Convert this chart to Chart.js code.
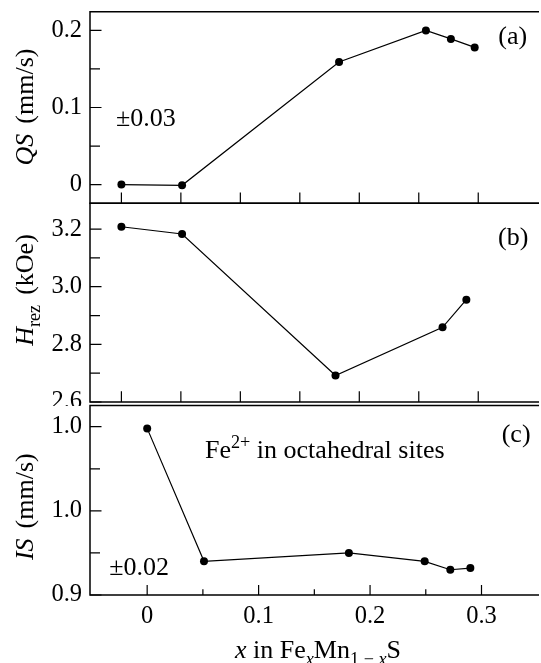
<!DOCTYPE html>
<html>
<head>
<meta charset="utf-8">
<script src="https://cdn.jsdelivr.net/npm/chart.js@4.4.0/dist/chart.umd.min.js"></script>
<style>
  html, body { margin: 0; padding: 0; background: #fff; }
  body { width: 541px; height: 663px; position: relative; overflow: hidden; }
  canvas { position: absolute; left: 0; }
</style>
</head>
<body>
<canvas id="chartA" width="541" height="210" style="top:0px"></canvas>
<canvas id="chartB" width="541" height="210" style="top:196px"></canvas>
<canvas id="chartC" width="541" height="265" style="top:398px"></canvas>
<script>
// (a) quadrupole splitting
const xQS = [0, 0.051, 0.183, 0.256, 0.277, 0.297];
const qsValues = [0, -0.001, 0.159, 0.2, 0.189, 0.178];
// (b) resonance field
const xHrez = [0, 0.051, 0.18, 0.27, 0.29];
const hrezValues = [3.208, 3.183, 2.692, 2.859, 2.955];
// (c) isomer shift
const xIS = [0, 0.051, 0.181, 0.249, 0.272, 0.29];
const isValues = [1.049, 0.970, 0.975, 0.970, 0.965, 0.966];

// ticks
const xTicksTop = [0, 0.05, 0.1, 0.15, 0.2, 0.25, 0.3];
const xTicksBottom = [0, 0.1, 0.2, 0.3];
const xTickLabels = ['0', '0.1', '0.2', '0.3'];
const xMinorBottom = [0.05, 0.15, 0.25];
const qsTicks = [0, 0.1, 0.2];
const qsTickLabels = ['0', '0.1', '0.2'];
const qsMinor = [0.05, 0.15];
const hrezTicks = [2.6, 2.8, 3.0, 3.2];
const hrezTickLabels = ['2.6', '2.8', '3.0', '3.2'];
const hrezMinor = [2.7, 2.9, 3.1];
const isTicks = [0.95, 1.0, 1.05];
const isTickLabels = ['0.9', '1.0', '1.0'];
const isMinor = [0.975, 1.025];

const SERIF = '"Liberation Serif", "Times New Roman", serif';
const TICK_SIZE = 24.5;
const TEXT_SIZE = 26;

function drawRich(ctx, parts, x, y, size, align) {
  const fontOf = p => (p.it ? 'italic ' : '') + ((p.sub || p.sup) ? size * 0.7 : size) + 'px ' + SERIF;
  const widthOf = p => { if (p.gap) return p.gap; ctx.font = fontOf(p); return ctx.measureText(p.t).width; };
  let total = 0;
  parts.forEach(p => { total += widthOf(p); });
  let cx = align === 'center' ? x - total / 2 : x;
  ctx.textAlign = 'left';
  ctx.textBaseline = 'alphabetic';
  ctx.fillStyle = '#000';
  parts.forEach(p => {
    const w = widthOf(p);
    if (!p.gap) {
      ctx.font = fontOf(p);
      const dy = p.sub ? size * 0.25 : (p.sup ? -size * 0.38 : 0);
      ctx.fillText(p.t, cx, y + dy);
    }
    cx += w;
  });
}

// frame, inward ticks and labels for one panel
function framePlugin(cfg) {
  return {
    id: 'frame',
    afterDraw(chart) {
      const ctx = chart.ctx;
      const a = chart.chartArea;
      const xs = chart.scales.x, ys = chart.scales.y;
      ctx.save();
      ctx.strokeStyle = '#000';
      ctx.lineWidth = 1.5;
      ctx.beginPath();
      ctx.moveTo(a.right + 2, a.top);
      ctx.lineTo(a.left, a.top);
      ctx.lineTo(a.left, a.bottom);
      ctx.lineTo(a.right + 2, a.bottom);
      ctx.stroke();

      ctx.lineWidth = 1.2;
      ctx.beginPath();
      cfg.yMajor.forEach(v => { const p = ys.getPixelForValue(v); ctx.moveTo(a.left, p); ctx.lineTo(a.left + 11.5, p); });
      cfg.yMinor.forEach(v => { const p = ys.getPixelForValue(v); ctx.moveTo(a.left, p); ctx.lineTo(a.left + 10, p); });
      cfg.xMajor.forEach(v => { const p = xs.getPixelForValue(v); ctx.moveTo(p, a.bottom); ctx.lineTo(p, a.bottom - cfg.xMajorLen); });
      cfg.xMinor.forEach(v => { const p = xs.getPixelForValue(v); ctx.moveTo(p, a.bottom); ctx.lineTo(p, a.bottom - 5.7); });
      ctx.stroke();

      cfg.texts.forEach(t => drawRich(ctx, t.parts, a.left + t.dx, a.top + t.dy, TEXT_SIZE, 'left'));

      ctx.save();
      ctx.translate(33, a.top + cfg.yTitle.dy);
      ctx.rotate(-Math.PI / 2);
      drawRich(ctx, cfg.yTitle.parts, 0, 0, TEXT_SIZE, 'center');
      ctx.restore();

      if (cfg.xTitle) {
        drawRich(ctx, cfg.xTitle, 318, a.bottom + 63.3, TEXT_SIZE, 'center');
      }
      ctx.restore();
    }
  };
}

function yAxis(min, max, ticks, labels) {
  return {
    type: 'linear',
    min: min,
    max: max,
    grid: { display: false, drawTicks: false },
    border: { display: false },
    afterFit: s => { s.width = 90; s.paddingTop = 0; s.paddingBottom = 0; },
    afterBuildTicks: s => { s.ticks = ticks.map(v => ({ value: v })); },
    ticks: {
      padding: 8,
      color: '#000',
      autoSkip: false,
      font: { family: SERIF, size: TICK_SIZE },
      callback: (v, i) => labels[i]
    }
  };
}

function lineData(xs, ys) {
  return {
    datasets: [{
      data: xs.map((x, i) => ({ x: x, y: ys[i] })),
      borderColor: '#000',
      borderWidth: 1.2,
      pointRadius: 4,
      pointBorderWidth: 0,
      pointBackgroundColor: '#000',
      tension: 0
    }]
  };
}

const common = {
  responsive: false,
  animation: false,
  events: [],
  plugins: { legend: { display: false }, tooltip: { enabled: false } }
};

new Chart(document.getElementById('chartA'), {
  type: 'line',
  data: lineData(xQS, qsValues),
  options: Object.assign({}, common, {
    layout: { padding: { top: 11.7, bottom: 6.7, left: 0, right: 0 } },
    scales: {
      x: { type: 'linear', display: false, min: -0.0264, max: 0.3494 },
      y: yAxis(-0.0243, 0.2243, qsTicks, qsTickLabels)
    }
  }),
  plugins: [framePlugin({
    yMajor: qsTicks, yMinor: qsMinor, xMajor: xTicksTop, xMinor: [], xMajorLen: 10.7,
    texts: [
      { parts: [{ t: '(a)' }], dx: 408.3, dy: 32.3 },
      { parts: [{ t: '±0.03' }], dx: 26, dy: 113.8 }
    ],
    yTitle: { parts: [{ t: 'QS', it: true }, { gap: 10 }, { t: '(mm/s)' }], dy: 95.3 }
  })]
});

new Chart(document.getElementById('chartB'), {
  type: 'line',
  data: lineData(xHrez, hrezValues),
  options: Object.assign({}, common, {
    layout: { padding: { top: 7.3, bottom: 0.5, left: 0, right: 0 } },
    scales: {
      x: { type: 'linear', display: false, min: -0.0264, max: 0.3494 },
      y: yAxis(2.6, 3.2894, hrezTicks, hrezTickLabels)
    }
  }),
  plugins: [framePlugin({
    yMajor: hrezTicks, yMinor: hrezMinor, xMajor: xTicksTop, xMinor: [], xMajorLen: 10.7,
    texts: [
      { parts: [{ t: '(b)' }], dx: 408, dy: 41.7 }
    ],
    yTitle: { parts: [{ t: 'H', it: true }, { t: 'rez', sub: true }, { gap: 10 }, { t: '(kOe)' }], dy: 86.7 }
  })]
});

new Chart(document.getElementById('chartC'), {
  type: 'line',
  data: lineData(xIS, isValues),
  options: Object.assign({}, common, {
    layout: { padding: { top: 7.5, bottom: 0, left: 0, right: 0 } },
    scales: {
      x: {
        type: 'linear',
        position: 'bottom',
        min: -0.0513,
        max: 0.3498,
        grid: { display: false, drawTicks: false },
        border: { display: false },
        afterFit: s => { s.height = 68; s.paddingLeft = 0; s.paddingRight = 0; },
        afterBuildTicks: s => { s.ticks = xTicksBottom.map(v => ({ value: v })); },
        ticks: {
          padding: 7,
          color: '#000',
          autoSkip: false,
          maxRotation: 0,
          font: { family: SERIF, size: TICK_SIZE },
          callback: (v, i) => xTickLabels[i]
        }
      },
      y: yAxis(0.95, 1.0626, isTicks, isTickLabels)
    }
  }),
  plugins: [framePlugin({
    yMajor: isTicks, yMinor: isMinor, xMajor: xTicksBottom, xMinor: xMinorBottom, xMajorLen: 10,
    texts: [
      { parts: [{ t: '(c)' }], dx: 411.7, dy: 36.5 },
      { parts: [{ t: 'Fe' }, { t: '2+', sup: true }, { t: ' in octahedral sites' }], dx: 115, dy: 52.8 },
      { parts: [{ t: '±0.02' }], dx: 19.3, dy: 169.5 }
    ],
    yTitle: { parts: [{ t: 'IS', it: true }, { gap: 10 }, { t: '(mm/s)' }], dy: 101.2 },
    xTitle: [{ t: 'x', it: true }, { t: ' in Fe' }, { t: 'x', it: true, sub: true }, { t: 'Mn' },
             { t: '1 \u2212 ', sub: true }, { t: 'x', it: true, sub: true }, { t: 'S' }]
  })]
});
</script>
</body>
</html>
